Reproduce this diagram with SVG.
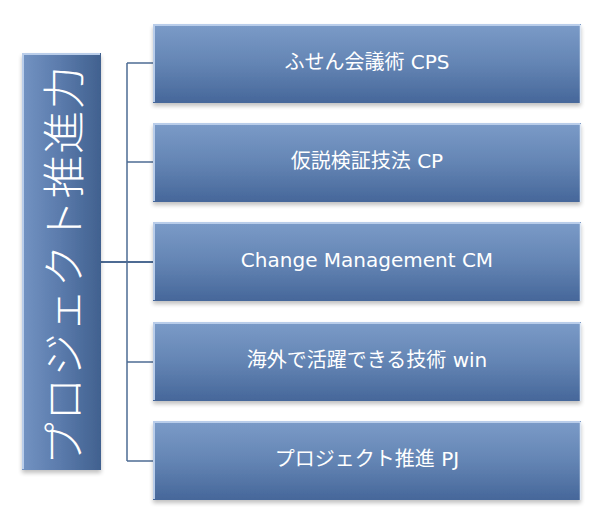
<svg xmlns="http://www.w3.org/2000/svg" width="599" height="521" viewBox="0 0 599 521">
<defs>
<linearGradient id="gv" x1="0" y1="0" x2="0" y2="1">
<stop offset="0" stop-color="#7b9bc8"/>
<stop offset="0.5" stop-color="#6485b4"/>
<stop offset="1" stop-color="#46679a"/>
</linearGradient>
<linearGradient id="gh" x1="0" y1="0" x2="1" y2="0">
<stop offset="0" stop-color="#7393c2"/>
<stop offset="0.5" stop-color="#5a7aab"/>
<stop offset="1" stop-color="#41618f"/>
</linearGradient>
<filter id="sh" x="-10%" y="-10%" width="120%" height="130%">
<feGaussianBlur in="SourceAlpha" stdDeviation="2"/>
<feOffset dx="0" dy="3"/>
<feComponentTransfer><feFuncA type="linear" slope="0.25"/></feComponentTransfer>
<feMerge><feMergeNode/><feMergeNode in="SourceGraphic"/></feMerge>
</filter>
</defs>
<style>
.box{fill:url(#gv);filter:url(#sh)}
.hl{stroke:#b9cdea;stroke-width:2;fill:none}
.hr{stroke:#dfe8f5;stroke-width:1.5;fill:none}
.lbl{font-family:"DejaVu Sans","Noto Sans CJK JP",sans-serif;font-size:20px;fill:#ffffff;text-anchor:middle;dominant-baseline:central}
.ln{stroke:#4d6b93;stroke-width:1.5;fill:none}
</style>
<g id="connectors">
<line class="ln" x1="127" y1="63" x2="127" y2="461"/>
<line class="ln" x1="101" y1="262" x2="153" y2="262" style="stroke-width:2.2"/>
<line class="ln" x1="127" y1="63" x2="153" y2="63"/>
<line class="ln" x1="127" y1="162" x2="153" y2="162"/>
<line class="ln" x1="127" y1="362" x2="153" y2="362"/>
<line class="ln" x1="127" y1="461" x2="153" y2="461"/>
</g>
<g id="root">
<rect x="22" y="53" width="79" height="417" fill="url(#gh)" filter="url(#sh)"/>
<polyline class="hl" points="23,469 23,54 100,54"/>
<text x="0" y="0" transform="translate(61,265) rotate(-90)" font-family="'Noto Sans CJK JP',sans-serif" font-size="43" font-weight="300" letter-spacing="1.5" fill="#ffffff" text-anchor="middle" dominant-baseline="central">プロジェクト推進力</text>
</g>
<g id="n1">
<rect class="box" x="153" y="24" width="428" height="79"/>
<polyline class="hl" points="154,102 154,25 580,25"/>
<line class="hr" x1="580.5" y1="25" x2="580.5" y2="103"/>
<text class="lbl" x="367" y="62">ふせん会議術 CPS</text>
</g>
<g id="n2">
<rect class="box" x="153" y="123" width="428" height="79"/>
<polyline class="hl" points="154,201 154,124 580,124"/>
<line class="hr" x1="580.5" y1="124" x2="580.5" y2="202"/>
<text class="lbl" x="367" y="161">仮説検証技法 CP</text>
</g>
<g id="n3">
<rect class="box" x="153" y="222" width="428" height="79"/>
<polyline class="hl" points="154,300 154,223 580,223"/>
<line class="hr" x1="580.5" y1="223" x2="580.5" y2="301"/>
<text class="lbl" x="367" y="260">Change Management CM</text>
</g>
<g id="n4">
<rect class="box" x="153" y="322" width="428" height="79"/>
<polyline class="hl" points="154,400 154,323 580,323"/>
<line class="hr" x1="580.5" y1="323" x2="580.5" y2="401"/>
<text class="lbl" x="367" y="360">海外で活躍できる技術 win</text>
</g>
<g id="n5">
<rect class="box" x="153" y="421" width="428" height="79"/>
<polyline class="hl" points="154,499 154,422 580,422"/>
<line class="hr" x1="580.5" y1="422" x2="580.5" y2="500"/>
<text class="lbl" x="367" y="459">プロジェクト推進 PJ</text>
</g>
</svg>
